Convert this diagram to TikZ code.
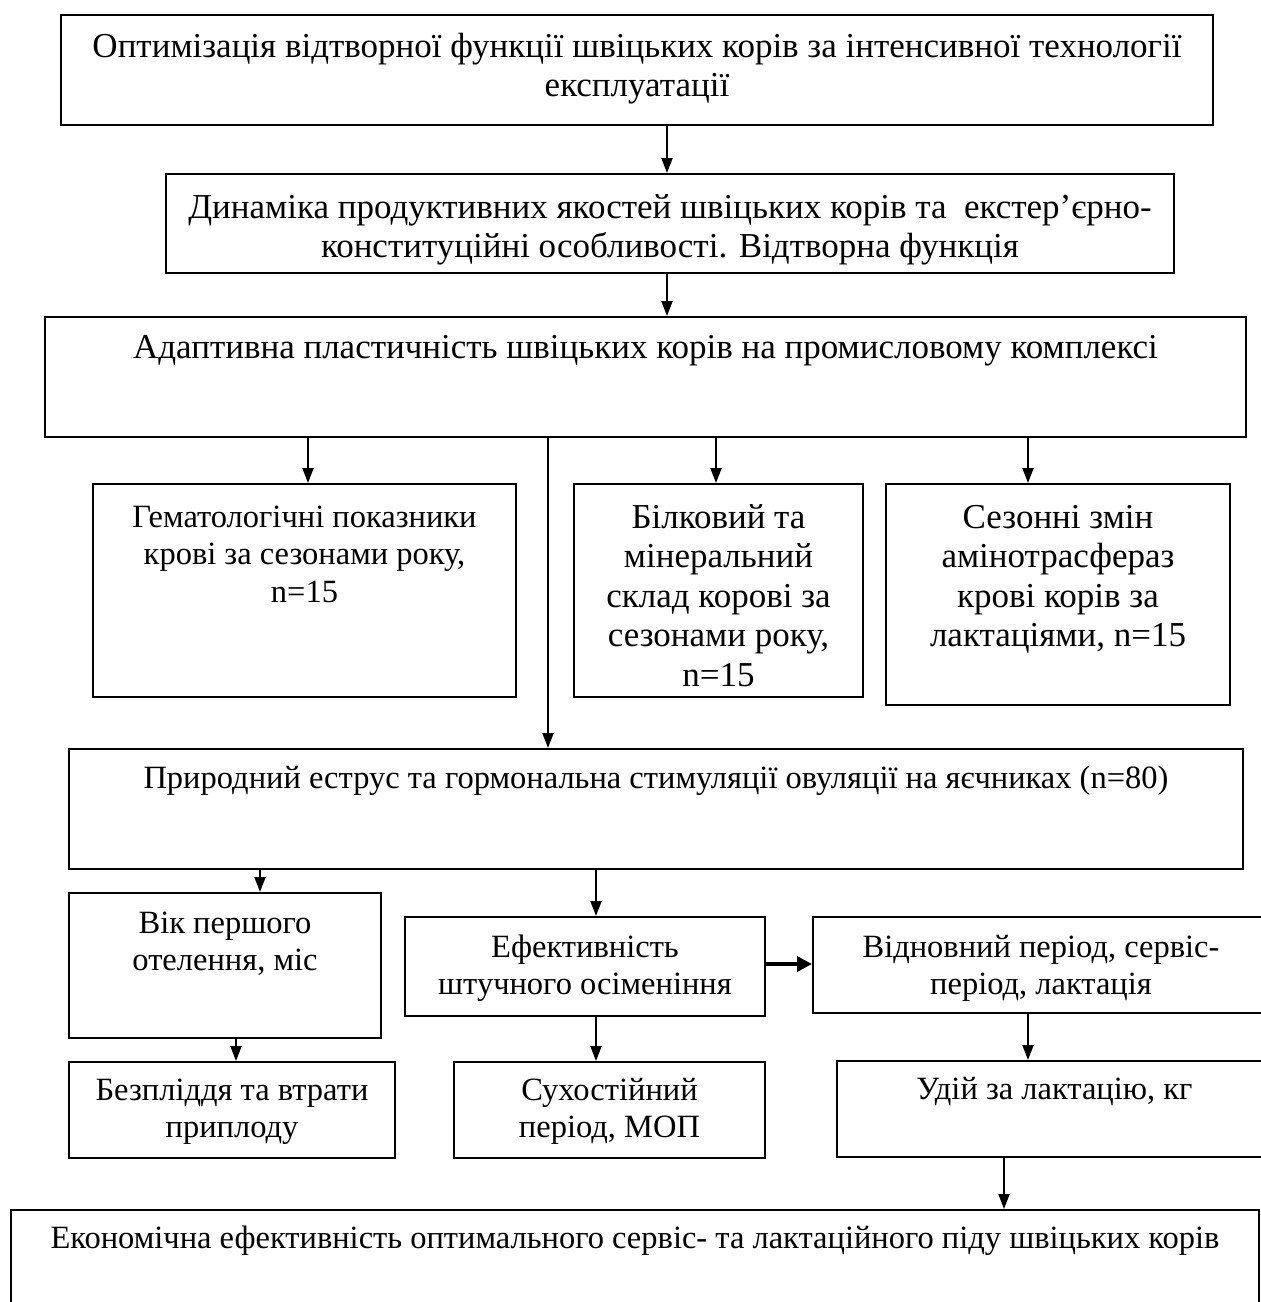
\documentclass[tikz,border=0pt]{standalone}
\usepackage{fontspec}
\setmainfont{Liberation Serif}
\usetikzlibrary{arrows.meta}
\begin{document}
\begin{tikzpicture}[x=1pt,y=-1pt,
  box/.style={draw, line width=2pt, rectangle, inner sep=0pt, anchor=north west},
  txt/.style={anchor=north, align=center, inner sep=0pt, font=\fontsize{32.5}{37.5}\selectfont},
  txtl/.style={txt, font=\fontsize{35}{39.5}\selectfont},
  arr/.style={line width=2pt, -{Triangle[length=15pt,width=11pt]}},
  harr/.style={line width=3.5pt, -{Triangle[length=15pt,width=15pt]}}]
\useasboundingbox (0,0) rectangle (1261,1302);
\fill[white] (0,0) rectangle (1261,1302);
\clip (0,0) rectangle (1261,1302);
\newcommand\fl{\rule{0pt}{32pt}}
% boxes
\node[box, minimum width=1152pt, minimum height=110pt] (b1) at (60,14) {};
\node[box, minimum width=1008pt, minimum height=99pt] (b2) at (165,173) {};
\node[box, minimum width=1201pt, minimum height=120pt] (b3) at (44,316) {};
\node[box, minimum width=423pt, minimum height=213pt] (b4a) at (92,483) {};
\node[box, minimum width=289pt, minimum height=213pt] (b4b) at (573,483) {};
\node[box, minimum width=344pt, minimum height=221pt] (b4c) at (885,483) {};
\node[box, minimum width=1174pt, minimum height=120pt] (b5) at (68,748) {};
\node[box, minimum width=312pt, minimum height=145pt] (b6a) at (68,892) {};
\node[box, minimum width=360pt, minimum height=99pt] (b6b) at (404,916) {};
\node[box, minimum width=456pt, minimum height=96pt] (b6c) at (812,916) {};
\node[box, minimum width=326pt, minimum height=96pt] (b7a) at (68,1061) {};
\node[box, minimum width=311pt, minimum height=96pt] (b7b) at (453,1061) {};
\node[box, minimum width=435pt, minimum height=96pt] (b7c) at (836,1060) {};
\node[box, minimum width=1248pt, minimum height=120pt] (b8) at (10,1209) {};
% texts
\node[txtl] (t1) at ([yshift=-11pt]b1.north) {\fl Оптимізація відтворної функції швіцьких корів за інтенсивної технології\\експлуатації};
\node[txtl] (t2) at ([yshift=-13pt]b2.north) {\fl Динаміка продуктивних якостей швіцьких корів та~ екстер’єрно-\\конституційні особливості. Відтворна функція};
\node[txtl] (t3) at ([yshift=-10pt]b3.north) {\fl Адаптивна пластичність швіцьких корів на промисловому комплексі};
\node[txt] (t4a) at ([yshift=-12pt]b4a.north) {\fl Гематологічні показники\\крові за сезонами року,\\n=15};
\node[txtl] (t4b) at ([yshift=-13pt]b4b.north) {\fl Білковий та\\мінеральний\\склад корові за\\сезонами року,\\n=15};
\node[txtl] (t4c) at ([yshift=-13pt]b4c.north) {\fl Сезонні змін\\амінотрасфераз\\крові корів за\\лактаціями, n=15};
\node[txt] (t5) at ([yshift=-8pt]b5.north) {\fl Природний еструс та гормональна стимуляції овуляції на яєчниках (n=80)};
\node[txt] (t6a) at ([yshift=-9pt]b6a.north) {\fl Вік першого\\отелення, міс};
\node[txt] (t6b) at ([yshift=-9pt]b6b.north) {\fl Ефективність\\штучного осіменіння};
\node[txt] (t6c) at ([yshift=-9pt]b6c.north) {\fl Відновний період, сервіс-\\період, лактація};
\node[txt] (t7a) at ([yshift=-7pt]b7a.north) {\fl Безпліддя та втрати\\приплоду};
\node[txt] (t7b) at ([yshift=-7pt]b7b.north) {\fl Сухостійний\\період, МОП};
\node[txt] (t7c) at ([yshift=-7pt]b7c.north) {\fl Удій за лактацію, кг};
\node[txt] (t8) at ([yshift=-7pt]b8.north) {\fl Економічна ефективність оптимального сервіс- та лактаційного піду швіцьких корів};
% connectors
\draw[arr] (667,0 |- b1.south) -- (667,0 |- b2.north);
\draw[arr] (667,0 |- b2.south) -- (667,0 |- b3.north);
\draw[arr] (308,0 |- b3.south) -- (308,0 |- b4a.north);
\draw[arr] (716,0 |- b3.south) -- (716,0 |- b4b.north);
\draw[arr] (1028,0 |- b3.south) -- (1028,0 |- b4c.north);
\draw[arr] (548,0 |- b3.south) -- (548,0 |- b5.north);
\draw[arr] (260,0 |- b5.south) -- (260,0 |- b6a.north);
\draw[arr] (596,0 |- b5.south) -- (596,0 |- b6b.north);
\draw[harr] (b6b.east |- 0,964) -- (b6c.west |- 0,964);
\draw[arr] (236,0 |- b6a.south) -- (236,0 |- b7a.north);
\draw[arr] (596,0 |- b6b.south) -- (596,0 |- b7b.north);
\draw[arr] (1028,0 |- b6c.south) -- (1028,0 |- b7c.north);
\draw[arr] (1004,0 |- b7c.south) -- (1004,0 |- b8.north);
\end{tikzpicture}
\end{document}
